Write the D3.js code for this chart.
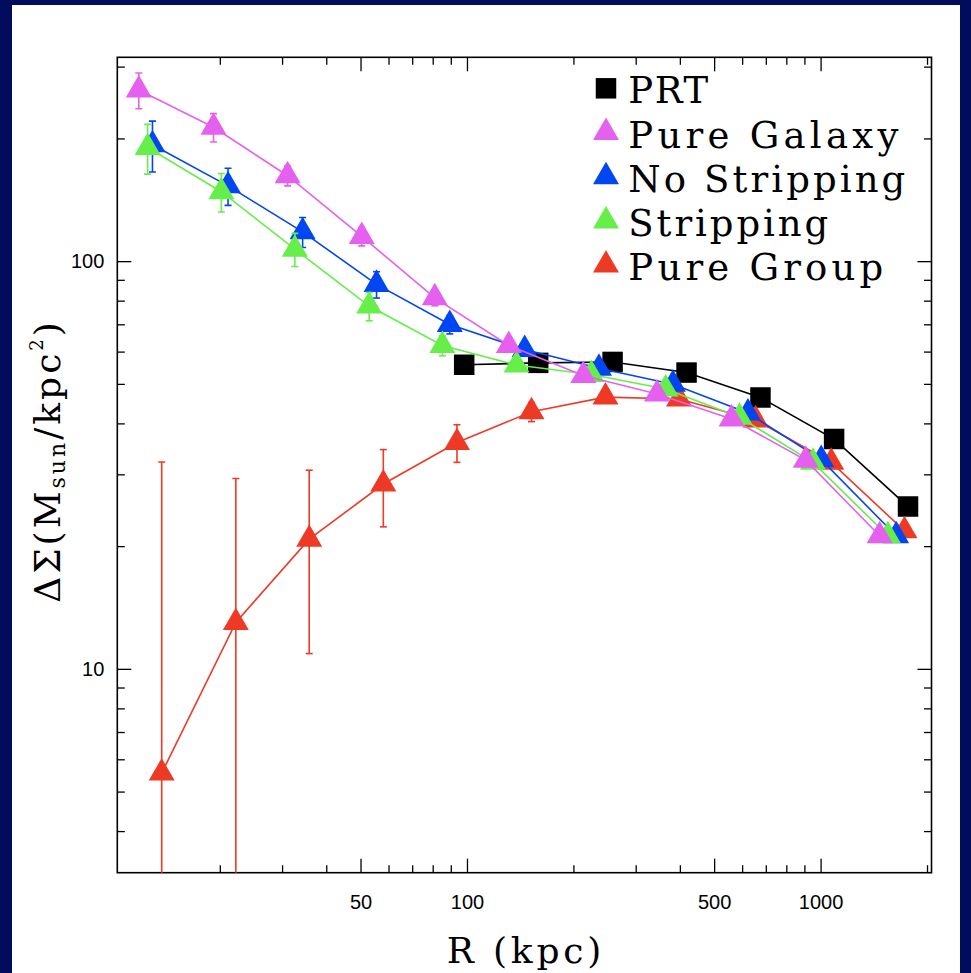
<!DOCTYPE html>
<html>
<head>
<meta charset="utf-8">
<script src="https://cdn.jsdelivr.net/npm/d3@7"></script>
<style>
	html, body { margin: 0; padding: 0; background: #020c5c; }
	svg { display: block; }
</style>
</head>
<body>
<div id="chart"></div>
<script>
// ###
// DATA
// ###

const prtR = [98.2, 159, 258.1, 417.8, 676, 1092, 1767];
const prtY = [55.7, 56.3, 56.6, 53.3, 46.3, 36.6, 25.0];
const prtErr = [2.8, 1, 1, 1, 0.8, 0.6, 0.5];

const galaxyR = [11.8, 19.2, 31.1, 50.4, 81.1, 131.3, 213.3, 344.6, 560, 907.7, 1469];
const galaxyY = [263, 213, 162, 115, 81.3, 62.1, 52.4, 47.2, 41.0, 32.5, 21.2];
const galaxyErr = [26.5, 17, 9, 6, 3.6, 2, 1.2, 1, 0.8, 0.6, 0.4];

const noStripR = [12.9, 21.1, 34.3, 55.5, 89.4, 145.6, 236.2, 382.4, 623, 1004, 1636];
const noStripY = [193, 153, 118, 87.7, 69.9, 60.7, 54.6, 49.9, 42.4, 32.6, 21.2];
const noStripErr = [27.5, 16, 10, 6.5, 3.6, 1.5, 1, 0.8, 0.7, 0.5, 0.4];

const stripR = [12.5, 20.2, 32.6, 52.9, 85.2, 138.1, 224.8, 364.6, 590.2, 951.3, 1550];
const stripY = [190, 148, 107, 77.6, 62.1, 55.6, 52.7, 48.6, 41.4, 32.1, 21.2];
const stripErr = [26.5, 16, 10, 6.2, 3.5, 1.2, 1, 0.8, 0.7, 0.5, 0.4];

const groupR = [13.7, 22.2, 35.8, 58, 93.7, 152.2, 246.4, 397.7, 655.1, 1072, 1727];
const groupY = [5.55, 13.0, 20.8, 28.4, 35.9, 42.7, 46.4, 45.9, 40.8, 32.1, 21.8];
const groupErr = [26.6, 16.3, 9.9, 6.1, 3.8, 2.3, 1.2, 1, 0.8, 0.6, 0.4];

const xMajorTicks = [50, 100, 500, 1000];
const xMinorTicks = [20, 30, 40, 60, 70, 80, 90, 200, 300, 400, 600, 700, 800, 900, 2000];
const yMajorTicks = [10, 100];
const yMinorTicks = [4, 5, 6, 7, 8, 9, 20, 30, 40, 50, 60, 70, 80, 90, 200, 300];

const legendNames = ['PRT', 'Pure Galaxy', 'No Stripping', 'Stripping', 'Pure Group'];

// ###
// SET UP
// ###

const width = 971,
	height = 973,
	plot = {left: 117.3, top: 57.3, right: 931.5, bottom: 872.7};

const svg = d3.select('#chart').append('svg')
	.attr('width', width)
	.attr('height', height);

svg.append('rect')
	.attr('width', width)
	.attr('height', height)
	.attr('fill', '#020c5c');

svg.append('rect')
	.attr('x', 12)
	.attr('y', 5)
	.attr('width', 948)
	.attr('height', height - 5)
	.attr('fill', '#ffffff');

const x = d3.scaleLog()
	.domain([10.26, 2059])
	.range([plot.left, plot.right]);

const y = d3.scaleLog()
	.domain([Math.sqrt(10), Math.pow(10, 2.5)])
	.range([plot.bottom, plot.top]);

// ###
// AXES (ticks on all four sides, pointing in)
// ###

function addAxis(axis, transform){
	const g = svg.append('g')
		.attr('transform', transform)
		.call(axis);
	g.select('.domain').remove();
	g.selectAll('.tick line')
		.attr('stroke', '#000')
		.attr('stroke-width', 1.3);
	g.selectAll('.tick text')
		.attr('fill', '#000')
		.attr('font-family', '"Liberation Sans", Arial, Helvetica, sans-serif')
		.attr('font-size', 20);
	return g;
}

const fmt = d3.format('d');

addAxis(d3.axisBottom(x).tickValues(xMajorTicks).tickSize(-14).tickPadding(22).tickFormat(fmt), `translate(0, ${plot.bottom})`);
addAxis(d3.axisBottom(x).tickValues(xMinorTicks).tickSize(-7.5).tickFormat(''), `translate(0, ${plot.bottom})`);
addAxis(d3.axisTop(x).tickValues(xMajorTicks).tickSize(-14).tickFormat(''), `translate(0, ${plot.top})`);
addAxis(d3.axisTop(x).tickValues(xMinorTicks).tickSize(-7.5).tickFormat(''), `translate(0, ${plot.top})`);

addAxis(d3.axisLeft(y).tickValues(yMajorTicks).tickSize(-14).tickPadding(13).tickFormat(fmt), `translate(${plot.left}, 0)`);
addAxis(d3.axisLeft(y).tickValues(yMinorTicks).tickSize(-7.5).tickFormat(''), `translate(${plot.left}, 0)`);
addAxis(d3.axisRight(y).tickValues(yMajorTicks).tickSize(-14).tickFormat(''), `translate(${plot.right}, 0)`);
addAxis(d3.axisRight(y).tickValues(yMinorTicks).tickSize(-7.5).tickFormat(''), `translate(${plot.right}, 0)`);

svg.append('rect')
	.attr('x', plot.left)
	.attr('y', plot.top)
	.attr('width', plot.right - plot.left)
	.attr('height', plot.bottom - plot.top)
	.attr('fill', 'none')
	.attr('stroke', '#000')
	.attr('stroke-width', 1.6);

// axis titles
const titleFont = '"DejaVu Serif", "Liberation Serif", serif';

svg.append('text')
	.attr('x', 526)
	.attr('y', 963)
	.attr('text-anchor', 'middle')
	.attr('font-family', titleFont)
	.attr('font-size', 36)
	.attr('letter-spacing', 3.8)
	.text('R (kpc)');

const yTitle = svg.append('text')
	.attr('transform', 'translate(60, 461) rotate(-90)')
	.attr('text-anchor', 'middle')
	.attr('font-family', titleFont)
	.attr('font-size', 36)
	.attr('letter-spacing', 3);
yTitle.append('tspan').text('ΔΣ(M');
yTitle.append('tspan').attr('font-size', 22).attr('dy', 5).text('sun');
yTitle.append('tspan').attr('dy', -5).text('/kpc');
yTitle.append('tspan').attr('font-size', 18).attr('dy', -17).text('2');
yTitle.append('tspan').attr('dy', 17).text(')');

// ###
// SERIES
// ###

svg.append('clipPath')
	.attr('id', 'plot-clip')
	.append('rect')
	.attr('x', plot.left)
	.attr('y', plot.top)
	.attr('width', plot.right - plot.left)
	.attr('height', plot.bottom - plot.top);

const triangle = d3.symbol().type(d3.symbolTriangle).size(293);
const square = d3.symbol().type(d3.symbolSquare).size(420);

const makeRows = (r, v, e) => r.map((d, i) => ({r: d, v: v[i], e: e[i]}));

const series = {
	'PRT': {rows: makeRows(prtR, prtY, prtErr), color: '#000000', marker: square},
	'Pure Group': {rows: makeRows(groupR, groupY, groupErr), color: '#ee3a24', marker: triangle},
	'No Stripping': {rows: makeRows(noStripR, noStripY, noStripErr), color: '#0046f2', marker: triangle},
	'Stripping': {rows: makeRows(stripR, stripY, stripErr), color: '#66ee4a', marker: triangle},
	'Pure Galaxy': {rows: makeRows(galaxyR, galaxyY, galaxyErr), color: '#e660f0', marker: triangle}
};

const drawOrder = ['PRT', 'Pure Group', 'No Stripping', 'Stripping', 'Pure Galaxy'];

const line = d3.line()
	.x(d => x(d.r))
	.y(d => y(d.v));

const lowY = d => (d.v - d.e > 0 ? y(d.v - d.e) : plot.bottom + 10);

const chartInner = svg.append('g')
	.attr('clip-path', 'url(#plot-clip)');

drawOrder.forEach(name => {
	const s = series[name];
	const g = chartInner.append('g').attr('class', 'series');

	g.append('path')
		.datum(s.rows)
		.attr('d', line)
		.attr('fill', 'none')
		.attr('stroke', s.color)
		.attr('stroke-width', 1.6);

	const bars = g.selectAll('.err')
		.data(s.rows)
		.join('g')
		.attr('class', 'err')
		.attr('stroke', s.color)
		.attr('stroke-width', 1.6);

	bars.append('line')
		.attr('x1', d => x(d.r))
		.attr('x2', d => x(d.r))
		.attr('y1', d => y(d.v + d.e))
		.attr('y2', lowY);

	bars.append('line')
		.attr('x1', d => x(d.r) - 3.5)
		.attr('x2', d => x(d.r) + 3.5)
		.attr('y1', d => y(d.v + d.e))
		.attr('y2', d => y(d.v + d.e));

	bars.append('line')
		.attr('x1', d => x(d.r) - 3.5)
		.attr('x2', d => x(d.r) + 3.5)
		.attr('y1', lowY)
		.attr('y2', lowY);

	g.selectAll('.pt')
		.data(s.rows)
		.join('path')
		.attr('class', 'pt')
		.attr('transform', d => `translate(${x(d.r)}, ${y(d.v)})`)
		.attr('d', s.marker())
		.attr('fill', s.color);
});

// ###
// LEGEND
// ###

// text widths measured on the reference, so the spread lettering lines up
const legendTextWidth = {'PRT': 80, 'Pure Galaxy': 270, 'No Stripping': 277, 'Stripping': 200, 'Pure Group': 255};

const legend = svg.append('g')
	.attr('transform', 'translate(606, 103.3)');

const legendRows = legend.selectAll('g')
	.data(legendNames)
	.join('g')
	.attr('transform', (d, i) => `translate(0, ${i * 44.2})`);

legendRows.append('path')
	.attr('transform', 'translate(0, -15)')
	.attr('d', d => series[d].marker())
	.attr('fill', d => series[d].color);

legendRows.append('text')
	.attr('x', 22.3)
	.attr('font-family', titleFont)
	.attr('font-size', 37)
	.attr('textLength', d => legendTextWidth[d])
	.attr('lengthAdjust', 'spacing')
	.attr('fill', '#000')
	.text(d => d);
</script>
</body>
</html>
